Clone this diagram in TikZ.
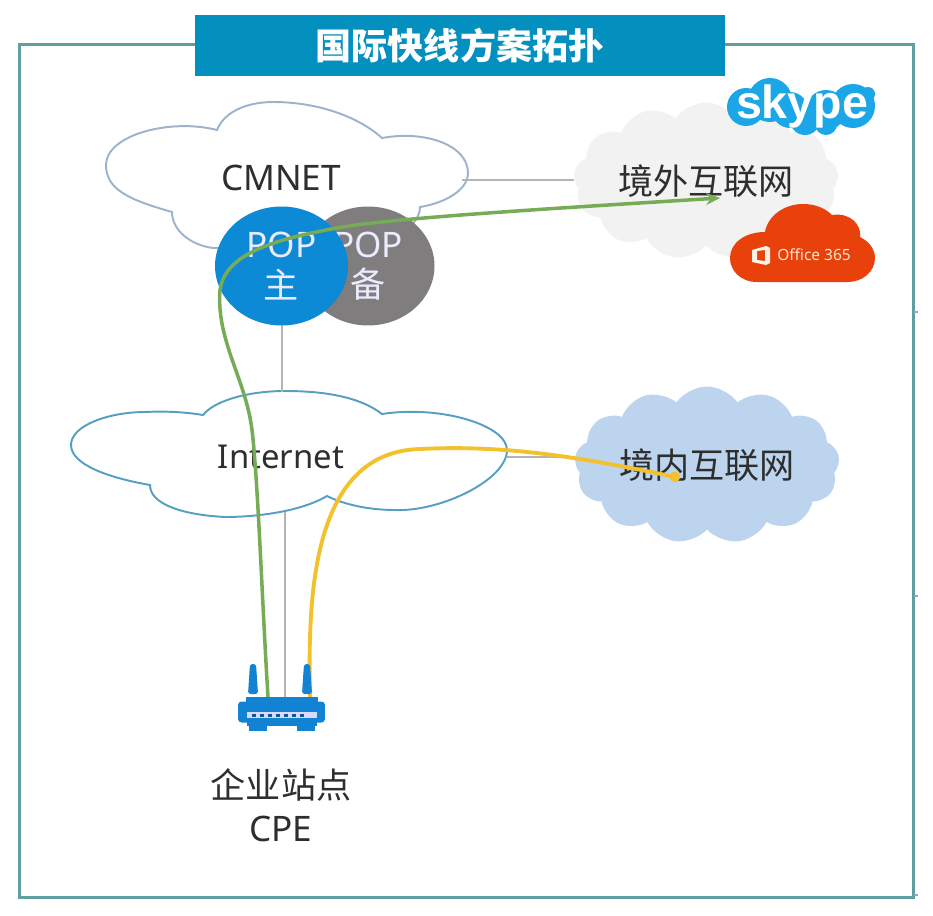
\documentclass[tikz,border=0pt]{standalone}
\usepackage{fontspec}
\setmainfont{Noto Sans}
\newfontfamily\cjk{Noto Sans CJK SC}
\newfontfamily\logofont{Liberation Sans}
\usepackage{xcolor}
\usetikzlibrary{shapes.geometric, shapes.symbols, arrows.meta, positioning}

\definecolor{framecol}{HTML}{5F9EA3}
\definecolor{bannercol}{HTML}{0490BF}
\definecolor{popblue}{HTML}{0C8AD6}
\definecolor{popgray}{HTML}{7F7D7E}
\definecolor{linkgray}{HTML}{B4B4B4}
\definecolor{greenpath}{HTML}{76AC55}
\definecolor{yellowpath}{HTML}{F3C12B}
\definecolor{routerblue}{HTML}{1183D2}
\definecolor{skypeblue}{HTML}{1BA6E8}
\definecolor{officered}{HTML}{E8410B}
\definecolor{cmnetline}{HTML}{9DB2CC}
\definecolor{internetline}{HTML}{559FC2}
\definecolor{overseasfill}{HTML}{F2F2F2}
\definecolor{domesticfill}{HTML}{BDD4EE}
\definecolor{tickcol}{HTML}{8FAAD2}

\begin{document}
\begin{tikzpicture}[
  x=0.02cm, y=-0.02cm,
  every node/.style={font=\fontsize{20}{23}\selectfont, text=black!82, align=center},
  frame/.style={rectangle, draw=framecol, line width=1.7pt, minimum width=17.9cm, minimum height=17.08cm},
  banner/.style={rectangle, fill=bannercol, minimum width=10.6cm, minimum height=1.22cm,
                 text=white, font=\fontsize{20.5}{24}\selectfont\cjk\bfseries},
  cloudO/.style={draw=#1, line width=1.1pt, fill=white},
  cloudF/.style={cloud, cloud puffs=13, cloud puff arc=110, cloud ignores aspect,
                 fill=#1, inner sep=0pt, minimum width=5.3cm, minimum height=3.14cm},
  pop/.style={ellipse, fill=#1, inner sep=0pt, minimum width=2.66cm, minimum height=2.38cm,
              text=white!92!blue},
  link/.style={draw=linkgray, line width=0.85pt},
  greenarr/.style={draw=greenpath, line width=2pt, -{Stealth[length=8pt,width=7pt]}},
  yellowarr/.style={draw=yellowpath, line width=2.2pt, -{Circle[length=6pt]}},
  routerpart/.style={rectangle, fill=routerblue, inner sep=0pt}
]
  \useasboundingbox (0,0) rectangle (933,916);

  % Frame and title
  \node[frame] (outer) at (466.5, 471) {};
  \node[banner] (title) at (460, 45.5) {国际快线方案拓扑};
  \foreach \tick in {312, 596, 895}
    \fill[tickcol] (914, \tick-1) rectangle (918, \tick+1);

  % CMNET cloud
  \draw[cloudO=cmnetline] (172,212)
    .. controls (130,200) and (106,190) .. (106,165)
    .. controls (106,135) and (170,118) .. (217,130)
    .. controls (225,110) and (250,102) .. (273,102)
    .. controls (320,102) and (360,118) .. (382,138)
    .. controls (425,130) and (468,145) .. (468,173)
    .. controls (468,190) and (445,203) .. (420,207)
    .. controls (420,230) and (380,250) .. (340,250)
    -- (213,248)
    .. controls (190,245) and (172,230) .. (172,212) -- cycle;
  \node (cmnet) at (281, 178) {CMNET};
  \coordinate (cmnetE) at (462, 180);

  % Internet cloud
  \draw[cloudO=internetline] (203,415)
    .. controls (215,400) and (250,391) .. (285,391)
    .. controls (325,391) and (360,397) .. (382,414)
    .. controls (440,405) and (507,425) .. (507,450)
    .. controls (507,480) and (440,512) .. (395,510)
    .. controls (370,510) and (345,505) .. (327,496)
    .. controls (300,512) and (255,517) .. (225,517)
    .. controls (185,515) and (150,505) .. (150,485)
    .. controls (110,478) and (71,465) .. (71,445)
    .. controls (71,425) and (110,412) .. (145,412)
    .. controls (165,411) and (185,412) .. (203,415) -- cycle;
  \node[font=\fontsize{18.7}{22}\selectfont] (internet) at (281, 457) {Internet};
  \coordinate (internetN) at (282, 392);
  \coordinate (internetS) at (285, 512);
  \coordinate (internetE) at (507, 457);

  % Right column: overseas and domestic networks
  \node[cloudF=overseasfill] (overseas) at (706, 181) {\cjk 境外互联网};
  \node[cloudF=domesticfill] (domestic) at (707, 465) {\cjk 境内互联网};
  \coordinate (yellowEnd) at (680, 478);
  \coordinate (greenEnd) at (720, 198);

  % Skype logo
  \foreach \lx/\ly/\lr in {746/107/19, 770/100/22, 790/110/18, 805/120/15, 826/110/20, 826/124/11, 853/106/22, 868/94/7}
    \fill[skypeblue] (\lx,\ly) circle[radius=\lr];
  \node[font=\fontsize{26.5}{28}\selectfont\logofont\bfseries, text=white] (skype) at (802, 106) {skype};

  % Office 365 logo
  \fill[officered] (757,282)
    .. controls (740,282) and (730,270) .. (730,258)
    .. controls (730,243) and (745,232) .. (765,232)
    .. controls (768,215) and (785,204) .. (803,204)
    .. controls (815,204) and (825,208) .. (832,215)
    .. controls (850,212) and (862,225) .. (860,237)
    .. controls (870,242) and (875,250) .. (875,258)
    .. controls (875,272) and (862,282) .. (848,282) -- cycle;
  \fill[white!90!orange, even odd rule] (752,250) -- (766,246) -- (770,248) -- (770,263) -- (766,265) -- (752,262) -- cycle
    (757,251) -- (765,250) -- (765,261) -- (757,260) -- cycle;
  \node[font=\fontsize{8.8}{10}\selectfont, text=white!80!orange] (office) at (814, 255) {Office 365};

  % Grey links
  \draw[link] (cmnetE) -- (cmnetE -| overseas.west);
  \draw[link] (internetE) -- (internetE -| domestic.west);
  \coordinate (popBase) at (282, 322);
  \coordinate (routerTop) at (285, 697);
  \draw[link] (internetN) -- (popBase);
  \draw[link] (internetS) -- (routerTop);

  % POP nodes
  \node[pop=popgray] (popbak) at (368, 266) {POP\\\cjk 备};
  \node[pop=popblue] (popmain) at (281.5, 266) {POP\\\cjk 主};

  % Paths from the router
  \coordinate (greenStart) at (268, 697);
  \coordinate (yellowStart) at (310, 697);
  \draw[greenarr] (greenStart)
    .. controls (262,600) and (258,480) .. (252,430)
    .. controls (246,380) and (216,340) .. (220,290)
    .. controls (225,255) and (270,240) .. (337,228)
    .. controls (390,218) and (560,208) .. (greenEnd);
  \draw[yellowarr] (yellowStart)
    .. controls (308,600) and (310,452) .. (420,449)
    .. controls (500,445) and (570,455) .. (yellowEnd);

  % Router
  \foreach \ax in {253, 307}
    \fill[routerblue, rounded corners=1.5pt] (\ax-3,664) -- (\ax+3,664) -- (\ax+5,694) -- (\ax-5,694) -- cycle;
  \node[routerpart, minimum width=0.36cm, minimum height=0.14cm] (footL) at (258, 727) {};
  \node[routerpart, minimum width=0.36cm, minimum height=0.14cm] (footR) at (306, 727) {};
  \node[routerpart, minimum width=1.4cm, minimum height=0.1cm] (base) at (282, 723) {};
  \node[routerpart, minimum width=1.45cm, minimum height=0.16cm] (lid) at (282, 701) {};
  \node[routerpart, rounded corners=2pt, minimum width=1.74cm, minimum height=0.42cm] (router) at (281.5, 712) {};
  \node[rectangle, fill=white!85!blue, minimum width=1.4cm, minimum height=0.12cm, inner sep=0pt] (leds) at (282, 715) {};
  \foreach \ledx in {254, 262, ..., 302}
    \fill[routerblue!70!black] (\ledx-2, 713.5) rectangle (\ledx+2, 716.5);
  \node (cpe) at (281, 805.5) {\cjk 企业站点\\[1.5pt]CPE};
\end{tikzpicture}
\end{document}
